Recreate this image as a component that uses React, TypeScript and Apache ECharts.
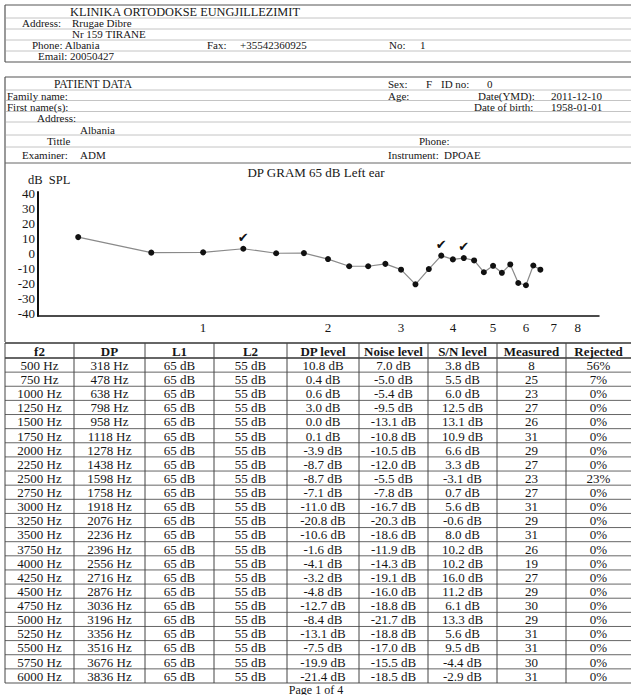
import React, { useEffect, useRef } from "react";
import * as echarts from "echarts";

// ---------- data ----------
const f2Hz = [500, 750, 1000, 1250, 1500, 1750, 2000, 2250, 2500, 2750, 3000, 3250, 3500, 3750, 4000, 4250, 4500, 4750, 5000, 5250, 5500, 5750, 6000];
const dpHz = [318, 478, 638, 798, 958, 1118, 1278, 1438, 1598, 1758, 1918, 2076, 2236, 2396, 2556, 2716, 2876, 3036, 3196, 3356, 3516, 3676, 3836];
const l1Db = [65, 65, 65, 65, 65, 65, 65, 65, 65, 65, 65, 65, 65, 65, 65, 65, 65, 65, 65, 65, 65, 65, 65];
const l2Db = [55, 55, 55, 55, 55, 55, 55, 55, 55, 55, 55, 55, 55, 55, 55, 55, 55, 55, 55, 55, 55, 55, 55];
const dpLevel = [10.8, 0.4, 0.6, 3.0, 0.0, 0.1, -3.9, -8.7, -8.7, -7.1, -11.0, -20.8, -10.6, -1.6, -4.1, -3.2, -4.8, -12.7, -8.4, -13.1, -7.5, -19.9, -21.4];
const noiseLevel = [7.0, -5.0, -5.4, -9.5, -13.1, -10.8, -10.5, -12.0, -5.5, -7.8, -16.7, -20.3, -18.6, -11.9, -14.3, -19.1, -16.0, -18.8, -21.7, -18.8, -17.0, -15.5, -18.5];
const snLevel = [3.8, 5.5, 6.0, 12.5, 13.1, 10.9, 6.6, 3.3, -3.1, 0.7, 5.6, -0.6, 8.0, 10.2, 10.2, 16.0, 11.2, 6.1, 13.3, 5.6, 9.5, -4.4, -2.9];
const measured = [8, 25, 23, 27, 26, 31, 29, 27, 23, 27, 31, 29, 31, 26, 19, 27, 29, 30, 29, 31, 31, 30, 31];
const rejectedPct = [56, 7, 0, 0, 0, 0, 0, 0, 23, 0, 0, 0, 0, 0, 0, 0, 0, 0, 0, 0, 0, 0, 0];
// points plotted on the chart beyond the rows printed on this page
const extraF2Hz = [6250, 6500];
const extraLevel = [-8.2, -11.0];
const checkedF2Hz = [1250, 3750, 4250];
const xTicksKHz = [1, 2, 3, 4, 5, 6, 7, 8];
const yTicksDb = [40, 30, 20, 10, 0, -10, -20, -30, -40];
const tableHeaders = ["f2", "DP", "L1", "L2", "DP level", "Noise level", "S/N level", "Measured", "Rejected"];

// ---------- styling helpers ----------
const SERIF = '"Liberation Serif", "Times New Roman", serif';
const INK = "#161616";

function txt(x: number, y: number, text: string, size = 11, align = "left", bold = false) {
  return {
    type: "text",
    x,
    y,
    silent: true,
    style: {
      text,
      fill: INK,
      fontSize: size,
      fontFamily: SERIF,
      fontWeight: bold ? "bold" : "normal",
      textAlign: align,
      textVerticalAlign: "middle",
      align,
      verticalAlign: "middle",
    },
  };
}
function ln(x1: number, y1: number, x2: number, y2: number, stroke = "#3a3a3a", w = 1) {
  return { type: "line", silent: true, shape: { x1, y1, x2, y2 }, style: { stroke, lineWidth: w } };
}

function buildGraphics() {
  const g: any[] = [];
  const faint = "#c4c4c4";
  // header box
  g.push(ln(5, 5, 640, 5, "#555", 1));
  g.push(ln(5, 5, 5, 62, "#555", 1.2));
  g.push(ln(5, 62, 640, 62, "#555", 1.2));
  [18, 29, 40, 51].forEach((y) => g.push(ln(6, y, 631, y, faint, 1)));
  g.push(txt(70, 11.5, "KLINIKA ORTODOKSE EUNGJILLEZIMIT", 12.3));
  g.push(txt(22, 23, "Address:"));
  g.push(txt(72, 23, "Rrugae Dibre"));
  g.push(txt(72, 34, "Nr 159 TIRANE"));
  g.push(txt(32, 45, "Phone: Albania"));
  g.push(txt(207, 45, "Fax:"));
  g.push(txt(240, 45, "+35542360925"));
  g.push(txt(389, 45, "No:"));
  g.push(txt(420, 45, "1"));
  g.push(txt(38, 56, "Email: 20050427"));

  // patient data box
  g.push(ln(5, 77, 640, 77, "#555", 1.2));
  g.push(ln(5, 77, 5, 342, "#555", 1.2));
  [90, 100.5, 111.5, 122, 135, 147].forEach((y) => g.push(ln(6, y, 631, y, faint, 1)));
  g.push(ln(5, 163, 640, 163, "#666", 1));
  g.push(txt(54, 84, "PATIENT DATA", 11.5));
  g.push(txt(388, 84, "Sex:"));
  g.push(txt(426, 84, "F"));
  g.push(txt(441, 84, "ID no:"));
  g.push(txt(487, 84, "0"));
  g.push(txt(7, 95.5, "Family name:"));
  g.push(txt(388, 95.5, "Age:"));
  g.push(txt(478, 95.5, "Date(YMD):"));
  g.push(txt(551, 95.5, "2011-12-10"));
  g.push(txt(7, 106.5, "First name(s):"));
  g.push(txt(474, 106.5, "Date of birth:"));
  g.push(txt(551, 106.5, "1958-01-01"));
  g.push(txt(37, 117.5, "Address:"));
  g.push(txt(80, 130, "Albania"));
  g.push(txt(47, 141, "Tittle"));
  g.push(txt(419, 141, "Phone:"));
  g.push(txt(22, 155, "Examiner:"));
  g.push(txt(80, 155, "ADM"));
  g.push(txt(388, 155, "Instrument:"));
  g.push(txt(444, 155, "DPOAE"));

  // chart labels
  g.push(txt(316, 172, "DP GRAM 65 dB Left ear", 13, "center"));
  g.push(txt(28, 180, "dB  SPL", 12.5));

  // table
  const cols = [5, 74, 145, 214, 287, 359, 428, 497, 566, 631];
  const top = 343;
  const headH = 15;
  const rowH = 14.13;
  const nRows = f2Hz.length;
  const bottom = top + headH + rowH * nRows;
  g.push(ln(5, top, 640, top, "#333", 1.4));
  g.push(ln(5, top + headH, 640, top + headH, "#333", 1.4));
  for (let i = 1; i <= nRows; i++) {
    const y = top + headH + rowH * i;
    g.push(ln(5, y, 640, y, "#555", i === nRows ? 1.2 : 0.9));
  }
  cols.slice(0, 9).forEach((x) => g.push(ln(x, top, x, bottom, "#444", 1)));
  tableHeaders.forEach((h, c) => g.push(txt((cols[c] + cols[c + 1]) / 2, top + headH / 2 + 0.5, h, 13, "center", true)));
  for (let i = 0; i < nRows; i++) {
    const cells = [
      `${f2Hz[i]} Hz`,
      `${dpHz[i]} Hz`,
      `${l1Db[i]} dB`,
      `${l2Db[i]} dB`,
      `${dpLevel[i].toFixed(1)} dB`,
      `${noiseLevel[i].toFixed(1)} dB`,
      `${snLevel[i].toFixed(1)} dB`,
      `${measured[i]}`,
      `${rejectedPct[i]}%`,
    ];
    const y = top + headH + rowH * i + rowH / 2 + 0.3;
    cells.forEach((t, c) => g.push(txt((cols[c] + cols[c + 1]) / 2, y, t, 13, "center")));
  }
  g.push(txt(316, 689.5, "Page 1 of 4", 12, "center"));
  return g;
}

export default function App() {
  const ref = useRef<HTMLDivElement>(null);
  useEffect(() => {
    if (!ref.current) return;
    const chart = echarts.init(ref.current, null, { renderer: "svg" });
    const checked = new Set(checkedF2Hz);
    const allF = [...f2Hz, ...extraF2Hz];
    const allL = [...dpLevel, ...extraLevel];
    const lineData = allF.map((f, i) => {
      const item: any = { value: [f / 1000, allL[i]] };
      if (checked.has(f)) {
        item.label = {
          show: true,
          formatter: "\u2714",
          position: "top",
          distance: 2,
          fontSize: 13,
          color: "#111",
          fontFamily: "DejaVu Sans",
        };
      }
      return item;
    });
    chart.setOption({
      animation: false,
      backgroundColor: "#ffffff",
      grid: { left: 38, right: 32, top: 192, bottom: 379, containLabel: false },
      xAxis: {
        type: "log",
        logBase: 2,
        min: 0.4,
        max: 9,
        axisLine: { show: true, onZero: false, lineStyle: { color: "#111", width: 1.5 } },
        axisTick: { show: false },
        splitLine: { show: false },
        minorTick: { show: false },
        axisLabel: {
          customValues: xTicksKHz,
          formatter: (v: number) => String(Math.round(v)),
          color: INK,
          fontSize: 13,
          fontFamily: SERIF,
          margin: 5,
        },
      },
      yAxis: {
        type: "value",
        min: -42,
        max: 41,
        axisLine: { show: true, onZero: false, lineStyle: { color: "#111", width: 2 } },
        axisTick: { show: false },
        splitLine: { show: false },
        axisLabel: {
          customValues: yTicksDb,
          color: INK,
          fontSize: 13,
          fontFamily: SERIF,
          margin: 3,
        },
      },
      series: [
        {
          type: "line",
          name: "DP level",
          data: lineData,
          symbol: "circle",
          symbolSize: 6,
          itemStyle: { color: "#111" },
          lineStyle: { color: "#8a8a8a", width: 1.2 },
          z: 3,
        },
      ],
      graphic: { elements: buildGraphics() },
    });
    return () => chart.dispose();
  }, []);
  return (
    <div
      ref={ref}
      style={{ position: "absolute", left: 0, top: 0, width: 631, height: 695, background: "#fff" }}
    />
  );
}
